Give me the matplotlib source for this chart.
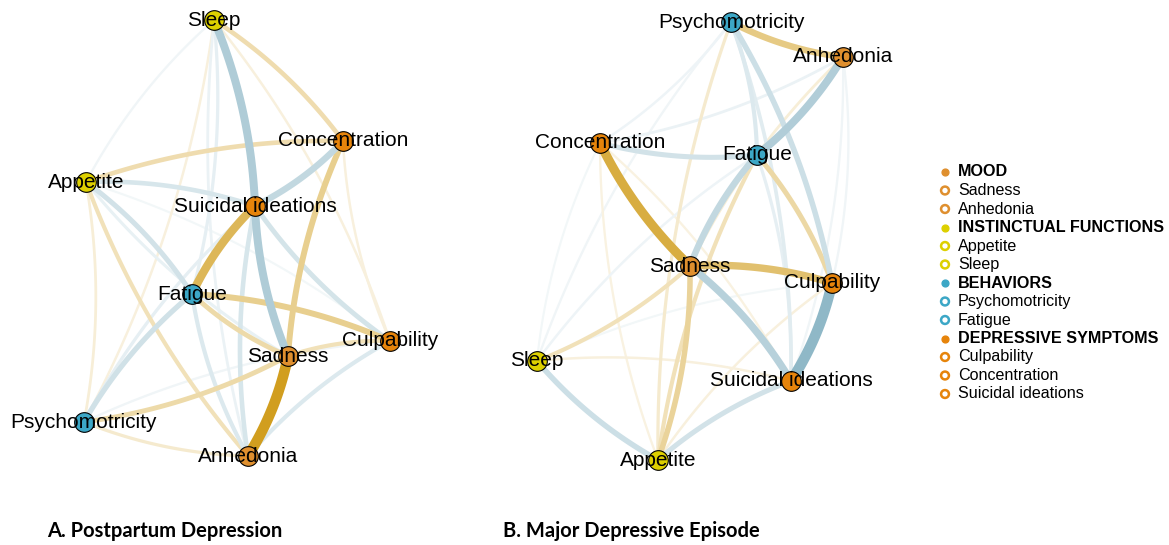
import matplotlib
matplotlib.use("Agg")
import matplotlib.pyplot as plt
import numpy as np

# node order (as in the data columns) and groups
nodes = ["Sadness", "Anhedonia", "Appetite", "Sleep", "Psychomotricity",
         "Fatigue", "Culpability", "Concentration", "Suicidal ideations"]
node_group = ["MOOD", "MOOD", "INSTINCTUAL FUNCTIONS", "INSTINCTUAL FUNCTIONS",
              "BEHAVIORS", "BEHAVIORS", "DEPRESSIVE SYMPTOMS",
              "DEPRESSIVE SYMPTOMS", "DEPRESSIVE SYMPTOMS"]
groups = ["MOOD", "INSTINCTUAL FUNCTIONS", "BEHAVIORS", "DEPRESSIVE SYMPTOMS"]
group_colors = {"MOOD": "#DF8F2E", "INSTINCTUAL FUNCTIONS": "#DDD000",
                "BEHAVIORS": "#3CA7C6", "DEPRESSIVE SYMPTOMS": "#E6840B"}

# layouts (pixel positions)
layout_a = {"Sleep": (214, 20), "Concentration": (343, 141), "Appetite": (86, 182),
            "Suicidal ideations": (255, 206), "Fatigue": (192, 294),
            "Culpability": (390, 341), "Sadness": (288, 356),
            "Psychomotricity": (84, 422), "Anhedonia": (248, 456)}
layout_b = {"Psychomotricity": (731, 22), "Anhedonia": (843, 57),
            "Concentration": (600, 143), "Fatigue": (757, 155),
            "Sadness": (690, 266), "Culpability": (832, 283), "Sleep": (537, 361),
            "Suicidal ideations": (791, 381), "Appetite": (658, 460)}

# edge weights: positive = gold, negative = blue
edges_a = [
    ("Sadness", "Anhedonia", 1.0), ("Sadness", "Concentration", 0.5),
    ("Sadness", "Suicidal ideations", -0.72), ("Sadness", "Fatigue", 0.38),
    ("Sadness", "Culpability", 0.3), ("Sadness", "Psychomotricity", 0.38),
    ("Sadness", "Appetite", -0.18), ("Sleep", "Suicidal ideations", -0.72),
    ("Sleep", "Concentration", 0.35), ("Sleep", "Appetite", -0.1),
    ("Sleep", "Psychomotricity", 0.12), ("Sleep", "Fatigue", -0.2),
    ("Sleep", "Culpability", 0.12), ("Sleep", "Anhedonia", -0.15),
    ("Concentration", "Appetite", 0.35), ("Concentration", "Suicidal ideations", -0.55),
    ("Concentration", "Culpability", 0.12), ("Appetite", "Suicidal ideations", -0.35),
    ("Appetite", "Fatigue", -0.4), ("Appetite", "Psychomotricity", 0.15),
    ("Appetite", "Anhedonia", 0.3), ("Appetite", "Culpability", -0.08),
    ("Suicidal ideations", "Fatigue", 0.75), ("Suicidal ideations", "Culpability", -0.38),
    ("Suicidal ideations", "Psychomotricity", -0.2),
    ("Suicidal ideations", "Anhedonia", -0.35), ("Fatigue", "Culpability", 0.5),
    ("Fatigue", "Psychomotricity", -0.42), ("Fatigue", "Anhedonia", -0.3),
    ("Psychomotricity", "Anhedonia", 0.2), ("Psychomotricity", "Culpability", -0.1),
    ("Culpability", "Anhedonia", -0.3),
]
edges_b = [
    ("Psychomotricity", "Anhedonia", 0.55), ("Psychomotricity", "Concentration", -0.12),
    ("Psychomotricity", "Sleep", -0.1), ("Psychomotricity", "Fatigue", -0.3),
    ("Psychomotricity", "Culpability", -0.45), ("Psychomotricity", "Suicidal ideations", -0.25),
    ("Psychomotricity", "Appetite", 0.2), ("Anhedonia", "Fatigue", -0.7),
    ("Anhedonia", "Concentration", -0.15), ("Anhedonia", "Sadness", 0.15),
    ("Anhedonia", "Suicidal ideations", -0.1), ("Anhedonia", "Culpability", -0.1),
    ("Concentration", "Fatigue", -0.4), ("Concentration", "Sadness", 0.85),
    ("Concentration", "Appetite", 0.1), ("Concentration", "Sleep", -0.08),
    ("Concentration", "Suicidal ideations", 0.1), ("Fatigue", "Sadness", -0.55),
    ("Fatigue", "Culpability", 0.4), ("Fatigue", "Appetite", 0.3),
    ("Fatigue", "Sleep", -0.12), ("Fatigue", "Suicidal ideations", -0.2),
    ("Sadness", "Culpability", 0.65), ("Sadness", "Suicidal ideations", -0.65),
    ("Sadness", "Sleep", 0.3), ("Sadness", "Appetite", 0.45),
    ("Culpability", "Suicidal ideations", -1.0), ("Culpability", "Sleep", -0.08),
    ("Culpability", "Appetite", 0.12), ("Sleep", "Appetite", -0.45),
    ("Sleep", "Suicidal ideations", 0.12), ("Suicidal ideations", "Appetite", -0.4),
]

titles = ["A. Postpartum Depression", "B. Major Depressive Episode"]

POS = np.array([0.82, 0.62, 0.12])
NEG = np.array([0.56, 0.72, 0.78])


def edge_color(w):
    base = POS if w > 0 else NEG
    a = 0.06 + 0.94 * abs(w) ** 1.1
    return tuple(1 - a * (1 - base))


def draw_network(ax, layout, edges, curve=0.09):
    for a, b, w in sorted(edges, key=lambda e: abs(e[2])):
        # from lower to higher node index, curve to the left
        if nodes.index(a) > nodes.index(b):
            a, b = b, a
        p0 = np.array(layout[a], float)
        p2 = np.array(layout[b], float)
        d = p2 - p0
        left = np.array([d[1], -d[0]])
        ctrl = (p0 + p2) / 2 + curve * left
        t = np.linspace(0, 1, 60)[:, None]
        pts = (1 - t) ** 2 * p0 + 2 * (1 - t) * t * ctrl + t ** 2 * p2
        ax.plot(pts[:, 0], pts[:, 1], color=edge_color(w),
                lw=1.0 + 6.6 * abs(w), solid_capstyle="butt", zorder=1)
    for i, n in enumerate(nodes):
        x, y = layout[n]
        ax.scatter(x, y, s=200, color=group_colors[node_group[i]],
                   edgecolor="black", linewidth=0.8, zorder=3)
        ax.text(x, y, n, ha="center", va="center", fontsize=15,
                family="Liberation Sans", zorder=4)


fig = plt.figure(figsize=(11.69, 5.45), dpi=100)
ax = fig.add_axes([0, 0, 1, 1])
ax.set_xlim(0, 1169)
ax.set_ylim(545, 0)
ax.axis("off")

draw_network(ax, layout_a, edges_a)
draw_network(ax, layout_b, edges_b)

ax.text(47, 531, titles[0], fontsize=14.5, fontweight="bold", family="Lato", va="center")
ax.text(503, 531, titles[1], fontsize=14.5, fontweight="bold", family="Lato", va="center")

# legend
row = 0
for g in groups:
    y = 172 + row * 18.5
    ax.scatter(945, y, s=24, color=group_colors[g], zorder=3)
    ax.text(958, y, g, fontsize=11.6, fontweight="bold", family="Liberation Sans", va="center")
    row += 1
    for i, n in enumerate(nodes):
        if node_group[i] == g:
            y = 172 + row * 18.5
            ax.scatter(945, y, s=32, facecolor="none", edgecolor=group_colors[g],
                       linewidth=1.8, zorder=3)
            ax.text(958, y, n, fontsize=11.6, family="Liberation Sans", va="center")
            row += 1

fig.savefig("out.png", dpi=100)
